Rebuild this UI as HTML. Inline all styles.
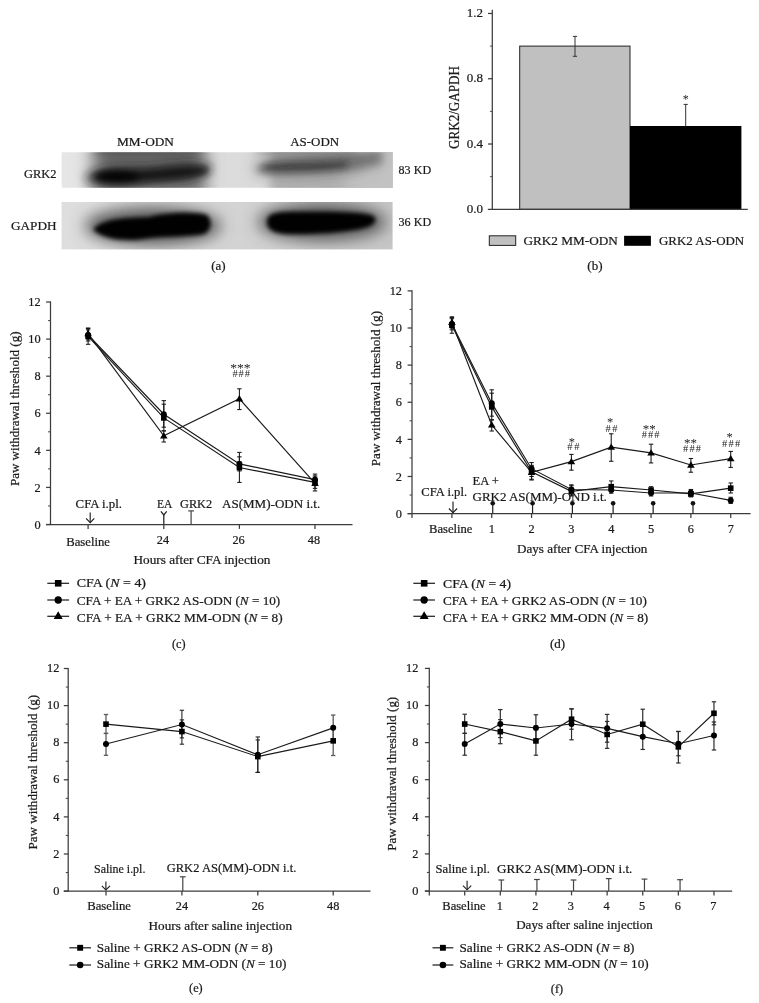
<!DOCTYPE html>
<html><head><meta charset="utf-8"><title>Figure</title>
<style>
html,body{margin:0;padding:0;background:#fff;}
body{width:759px;height:1003px;overflow:hidden;font-family:"Liberation Serif",serif;}
svg{display:block;font-family:"Liberation Serif",serif;filter:grayscale(1);}
text{stroke:#1a1a1a;stroke-width:0.22px;stroke-linejoin:round;}
</style></head><body>
<svg width="759" height="1003" viewBox="0 0 759 1003">
<rect width="759" height="1003" fill="#fff"/>

<defs>
<filter id="b2" filterUnits="userSpaceOnUse" x="0" y="90" width="460" height="220"><feGaussianBlur stdDeviation="2.2"/></filter>
<filter id="b3" filterUnits="userSpaceOnUse" x="0" y="90" width="460" height="220"><feGaussianBlur stdDeviation="3.2"/></filter>
<filter id="b5" filterUnits="userSpaceOnUse" x="0" y="90" width="460" height="220"><feGaussianBlur stdDeviation="5"/></filter>
<filter id="b8" filterUnits="userSpaceOnUse" x="0" y="90" width="460" height="220"><feGaussianBlur stdDeviation="8"/></filter>
<filter id="bh" filterUnits="userSpaceOnUse" x="0" y="90" width="460" height="220"><feGaussianBlur stdDeviation="9 0.1"/></filter>
<clipPath id="c1"><rect x="61.6" y="152.2" width="331" height="35.6"/></clipPath>
<clipPath id="c2"><rect x="61.6" y="202.0" width="331" height="47.6"/></clipPath>
<linearGradient id="g1" x1="0" x2="1" y1="0" y2="0">
<stop offset="0" stop-color="#e6e6e6"/><stop offset="0.5" stop-color="#dcdcdc"/><stop offset="1" stop-color="#cfcfcf"/></linearGradient>
<linearGradient id="g2" x1="0" x2="1" y1="0" y2="0">
<stop offset="0" stop-color="#dedede"/><stop offset="0.5" stop-color="#d4d4d4"/><stop offset="1" stop-color="#c6c6c6"/></linearGradient>
</defs>
<g clip-path="url(#c1)">
<rect x="61" y="152" width="332" height="36.5" fill="url(#g1)"/>
<path d="M93,130 L205,130 L205.02,170.0 L205,210 L93,210 L92.98,170.0 Z" fill="#6a6a6a" filter="url(#bh)" opacity="1.0"/>
<path d="M96,136 L202,136 L202.02,145.5 L202,155 L96,155 L95.98,145.5 Z" fill="#3a3a3a" filter="url(#b5)" opacity="0.42"/>
<path d="M100,187 L195,187 L195.02,193.0 L195,199 L100,199 L99.98,193.0 Z" fill="#b8b8b8" filter="url(#b5)" opacity="0.45"/>
<path d="M84,178 C94,164 130,166 150,166 C175,163 198,160 212,166 C214,177 185,182 150,184 C125,189 96,190 84,178 Z" fill="#202020" filter="url(#b5)" fill-opacity="0.7"/>
<path d="M93,176.5 C100,170.5 120,170.5 140,171.5 C165,170 190,166.5 206,167.5 C209,170 208,173 205,174.5 C190,177 165,178.5 140,180.5 C120,183 100,182.5 93,176.5 Z" fill="#000" filter="url(#b3)" fill-opacity="0.62"/>
<path d="M95.00,176.50 C95.00,173.96 104.85,171.90 117.00,171.90 C129.15,171.90 139.00,173.96 139.00,176.50 C139.00,179.04 129.15,181.10 117.00,181.10 C104.85,181.10 95.00,179.04 95.00,176.50 Z" fill="#000" fill-opacity="0.85" filter="url(#b3)"/>
<path d="M270,130 L420,130 L420.02,170.0 L420,210 L270,210 L269.98,170.0 Z" fill="#b0b0b0" filter="url(#b5)" opacity="1.0"/>
<path d="M345,130 L420,130 L420.02,170.0 L420,210 L345,210 L344.98,170.0 Z" fill="#c8c8c8" filter="url(#bh)" opacity="0.75"/>
<path d="M256,136 L356,136 L356.02,145.0 L356,154 L256,154 L255.98,145.0 Z" fill="#707070" filter="url(#b5)" opacity="0.55"/>
<path d="M254.00,165.00 C254.00,160.03 279.97,156.00 312.00,156.00 C344.03,156.00 370.00,160.03 370.00,165.00 C370.00,169.97 344.03,174.00 312.00,174.00 C279.97,174.00 254.00,169.97 254.00,165.00 Z" fill="#606060" fill-opacity="0.35" filter="url(#b8)"/>
<path d="M254,167 C275,155 330,159 380,149 C384,156 384,161 380,165 C340,174 290,175 258,174 Z" fill="#383838" filter="url(#b5)" fill-opacity="0.55"/>
<path d="M262,165.5 C280,161.5 320,165 346,161 C348,164 348,166.5 346,167.5 C320,171 285,171 264,170.5 Z" fill="#222" filter="url(#b3)" fill-opacity="0.55"/>
</g>
<g clip-path="url(#c2)">
<rect x="61" y="201.8" width="332" height="48" fill="url(#g2)"/>
<path d="M85.00,226.00 C85.00,216.06 115.44,208.00 153.00,208.00 C190.56,208.00 221.00,216.06 221.00,226.00 C221.00,235.94 190.56,244.00 153.00,244.00 C115.44,244.00 85.00,235.94 85.00,226.00 Z" fill="#505050" fill-opacity="0.99" filter="url(#b8)"/>
<path d="M258.00,222.00 C258.00,212.06 286.65,204.00 322.00,204.00 C357.35,204.00 386.00,212.06 386.00,222.00 C386.00,231.94 357.35,240.00 322.00,240.00 C286.65,240.00 258.00,231.94 258.00,222.00 Z" fill="#505050" fill-opacity="0.99" filter="url(#b8)"/>
<path d="M93,229.5 C101,220 122,217.5 148,217.3 C165,212.3 195,211.3 207,215 C213,221 211,230.5 204,234 C190,237 165,236 150,238 C130,242 104,240.5 93,229.5 Z" fill="#000" fill-opacity="0.99" filter="url(#b2)"/>
<path d="M267,222 C267,213 276,211.8 300,211.8 C330,211.3 360,211.8 371,215 C378,217.5 377,223.5 367,227.3 C350,232 320,234.3 295,234.3 C276,234.3 267,231 267,222 Z" fill="#000" fill-opacity="0.99" filter="url(#b2)"/>
</g>
<text x="117.00" y="146.30" font-size="13" text-anchor="start" fill="#1a1a1a" textLength="57.0" lengthAdjust="spacingAndGlyphs">MM-ODN</text>
<text x="290.20" y="146.30" font-size="13" text-anchor="start" fill="#1a1a1a" textLength="49.0" lengthAdjust="spacingAndGlyphs">AS-ODN</text>
<text x="56.50" y="178.40" font-size="13" text-anchor="end" fill="#1a1a1a" textLength="32.6" lengthAdjust="spacingAndGlyphs">GRK2</text>
<text x="56.50" y="229.80" font-size="13" text-anchor="end" fill="#1a1a1a" textLength="45.5" lengthAdjust="spacingAndGlyphs">GAPDH</text>
<text x="398.60" y="173.70" font-size="13" text-anchor="start" fill="#1a1a1a" textLength="32.5" lengthAdjust="spacingAndGlyphs">83 KD</text>
<text x="398.60" y="225.80" font-size="13" text-anchor="start" fill="#1a1a1a" textLength="32.5" lengthAdjust="spacingAndGlyphs">36 KD</text>
<text x="218.40" y="270.40" font-size="13" text-anchor="middle" fill="#1a1a1a">(a)</text>
<line x1="492.30" y1="209.80" x2="492.30" y2="9.80" stroke="#3c3c3c" stroke-width="1.25"/>
<text x="482.90" y="213.00" font-size="13" text-anchor="end" fill="#1a1a1a">0.0</text>
<line x1="488.00" y1="144.02" x2="492.30" y2="144.02" stroke="#3c3c3c" stroke-width="1.25"/>
<text x="482.90" y="147.72" font-size="13" text-anchor="end" fill="#1a1a1a">0.4</text>
<line x1="488.00" y1="78.74" x2="492.30" y2="78.74" stroke="#3c3c3c" stroke-width="1.25"/>
<text x="482.90" y="82.44" font-size="13" text-anchor="end" fill="#1a1a1a">0.8</text>
<line x1="488.00" y1="13.46" x2="492.30" y2="13.46" stroke="#3c3c3c" stroke-width="1.25"/>
<text x="482.90" y="17.16" font-size="13" text-anchor="end" fill="#1a1a1a">1.2</text>
<line x1="489.90" y1="176.66" x2="492.30" y2="176.66" stroke="#444" stroke-width="0.9"/>
<line x1="489.90" y1="111.38" x2="492.30" y2="111.38" stroke="#444" stroke-width="0.9"/>
<line x1="489.90" y1="46.10" x2="492.30" y2="46.10" stroke="#444" stroke-width="0.9"/>
<rect x="519.7" y="46.10" width="110.3" height="163.20" fill="#c0c0c0" stroke="#222" stroke-width="1"/>
<rect x="630" y="126.0" width="111.4" height="83.30" fill="#000"/>
<line x1="487.80" y1="209.30" x2="747.80" y2="209.30" stroke="#3c3c3c" stroke-width="1.25"/>
<line x1="575.00" y1="36.40" x2="575.00" y2="56.30" stroke="#333" stroke-width="1.0"/>
<line x1="572.90" y1="36.40" x2="577.10" y2="36.40" stroke="#333" stroke-width="1.0"/>
<line x1="572.90" y1="56.30" x2="577.10" y2="56.30" stroke="#333" stroke-width="1.0"/>
<line x1="685.70" y1="104.40" x2="685.70" y2="126.00" stroke="#333" stroke-width="1.0"/>
<line x1="683.60" y1="104.40" x2="687.80" y2="104.40" stroke="#333" stroke-width="1.0"/>
<text x="685.70" y="102.90" font-size="12" text-anchor="middle" fill="#222" stroke="none" style="stroke:none">*</text>
<text transform="translate(459.30,107.50) rotate(-90)" font-size="14.6" text-anchor="middle" fill="#1a1a1a" textLength="83.0" lengthAdjust="spacingAndGlyphs">GRK2/GAPDH</text>
<rect x="489.3" y="235.8" width="26.4" height="9.6" fill="#c0c0c0" stroke="#222" stroke-width="1"/>
<text x="523.40" y="245.20" font-size="13" text-anchor="start" fill="#1a1a1a" textLength="94.5" lengthAdjust="spacingAndGlyphs">GRK2 MM-ODN</text>
<rect x="624.1" y="235.8" width="26.8" height="10" fill="#000"/>
<text x="659.00" y="245.20" font-size="13" text-anchor="start" fill="#1a1a1a" textLength="85.2" lengthAdjust="spacingAndGlyphs">GRK2 AS-ODN</text>
<text x="594.90" y="269.90" font-size="13" text-anchor="middle" fill="#1a1a1a">(b)</text>
<line x1="50.50" y1="525.10" x2="50.50" y2="301.42" stroke="#3c3c3c" stroke-width="1.25"/>
<line x1="46.10" y1="524.50" x2="50.50" y2="524.50" stroke="#3c3c3c" stroke-width="1.25"/>
<text x="40.60" y="528.70" font-size="12.3" text-anchor="end" fill="#1a1a1a">0</text>
<line x1="48.10" y1="505.96" x2="50.50" y2="505.96" stroke="#4a4a4a" stroke-width="1.1"/>
<line x1="46.10" y1="487.42" x2="50.50" y2="487.42" stroke="#3c3c3c" stroke-width="1.25"/>
<text x="40.60" y="491.62" font-size="12.3" text-anchor="end" fill="#1a1a1a">2</text>
<line x1="48.10" y1="468.88" x2="50.50" y2="468.88" stroke="#4a4a4a" stroke-width="1.1"/>
<line x1="46.10" y1="450.34" x2="50.50" y2="450.34" stroke="#3c3c3c" stroke-width="1.25"/>
<text x="40.60" y="454.54" font-size="12.3" text-anchor="end" fill="#1a1a1a">4</text>
<line x1="48.10" y1="431.80" x2="50.50" y2="431.80" stroke="#4a4a4a" stroke-width="1.1"/>
<line x1="46.10" y1="413.26" x2="50.50" y2="413.26" stroke="#3c3c3c" stroke-width="1.25"/>
<text x="40.60" y="417.46" font-size="12.3" text-anchor="end" fill="#1a1a1a">6</text>
<line x1="48.10" y1="394.72" x2="50.50" y2="394.72" stroke="#4a4a4a" stroke-width="1.1"/>
<line x1="46.10" y1="376.18" x2="50.50" y2="376.18" stroke="#3c3c3c" stroke-width="1.25"/>
<text x="40.60" y="380.38" font-size="12.3" text-anchor="end" fill="#1a1a1a">8</text>
<line x1="48.10" y1="357.64" x2="50.50" y2="357.64" stroke="#4a4a4a" stroke-width="1.1"/>
<line x1="46.10" y1="339.10" x2="50.50" y2="339.10" stroke="#3c3c3c" stroke-width="1.25"/>
<text x="40.60" y="343.30" font-size="12.3" text-anchor="end" fill="#1a1a1a">10</text>
<line x1="48.10" y1="320.56" x2="50.50" y2="320.56" stroke="#4a4a4a" stroke-width="1.1"/>
<line x1="46.10" y1="302.02" x2="50.50" y2="302.02" stroke="#3c3c3c" stroke-width="1.25"/>
<text x="40.60" y="306.22" font-size="12.3" text-anchor="end" fill="#1a1a1a">12</text>
<line x1="46.10" y1="524.50" x2="352.50" y2="524.50" stroke="#3c3c3c" stroke-width="1.25"/>
<line x1="88.10" y1="524.50" x2="88.10" y2="528.90" stroke="#3c3c3c" stroke-width="1.25"/>
<text x="88.10" y="546.40" font-size="12.3" text-anchor="middle" fill="#1a1a1a" textLength="43.8" lengthAdjust="spacingAndGlyphs">Baseline</text>
<line x1="163.80" y1="524.50" x2="163.80" y2="528.90" stroke="#3c3c3c" stroke-width="1.25"/>
<text x="163.00" y="543.80" font-size="12.3" text-anchor="middle" fill="#1a1a1a">24</text>
<line x1="239.40" y1="524.50" x2="239.40" y2="528.90" stroke="#3c3c3c" stroke-width="1.25"/>
<text x="238.60" y="543.80" font-size="12.3" text-anchor="middle" fill="#1a1a1a">26</text>
<line x1="315.00" y1="524.50" x2="315.00" y2="528.90" stroke="#3c3c3c" stroke-width="1.25"/>
<text x="314.00" y="543.80" font-size="12.3" text-anchor="middle" fill="#1a1a1a">48</text>
<text transform="translate(19.00,408.80) rotate(-90)" font-size="12.3" text-anchor="middle" fill="#1a1a1a" textLength="154.6" lengthAdjust="spacingAndGlyphs">Paw withdrawal threshold (g)</text>
<text x="202.00" y="564.00" font-size="12.3" text-anchor="middle" fill="#1a1a1a" textLength="137.0" lengthAdjust="spacingAndGlyphs">Hours after CFA injection</text>
<polyline fill="none" stroke="#1a1a1a" stroke-width="1.15" points="88.10,336.32 163.80,417.89 239.40,467.58 315.00,482.41"/>
<polyline fill="none" stroke="#1a1a1a" stroke-width="1.15" points="88.10,335.02 163.80,414.19 239.40,463.87 315.00,479.63"/>
<polyline fill="none" stroke="#1a1a1a" stroke-width="1.15" points="88.10,333.54 163.80,435.88 239.40,398.80 315.00,483.34"/>
<line x1="88.10" y1="328.53" x2="88.10" y2="344.29" stroke="#161616" stroke-width="1.05"/>
<line x1="85.90" y1="328.53" x2="90.30" y2="328.53" stroke="#161616" stroke-width="1.05"/>
<line x1="85.90" y1="344.29" x2="90.30" y2="344.29" stroke="#161616" stroke-width="1.05"/>
<line x1="163.80" y1="404.18" x2="163.80" y2="430.87" stroke="#161616" stroke-width="1.05"/>
<line x1="161.60" y1="404.18" x2="166.00" y2="404.18" stroke="#161616" stroke-width="1.05"/>
<line x1="161.60" y1="430.87" x2="166.00" y2="430.87" stroke="#161616" stroke-width="1.05"/>
<line x1="239.40" y1="452.38" x2="239.40" y2="482.41" stroke="#161616" stroke-width="1.05"/>
<line x1="237.20" y1="452.38" x2="241.60" y2="452.38" stroke="#161616" stroke-width="1.05"/>
<line x1="237.20" y1="482.41" x2="241.60" y2="482.41" stroke="#161616" stroke-width="1.05"/>
<line x1="315.00" y1="475.93" x2="315.00" y2="488.35" stroke="#161616" stroke-width="1.05"/>
<line x1="312.80" y1="475.93" x2="317.20" y2="475.93" stroke="#161616" stroke-width="1.05"/>
<line x1="312.80" y1="488.35" x2="317.20" y2="488.35" stroke="#161616" stroke-width="1.05"/>
<line x1="88.10" y1="329.83" x2="88.10" y2="340.95" stroke="#161616" stroke-width="1.05"/>
<line x1="85.90" y1="329.83" x2="90.30" y2="329.83" stroke="#161616" stroke-width="1.05"/>
<line x1="85.90" y1="340.95" x2="90.30" y2="340.95" stroke="#161616" stroke-width="1.05"/>
<line x1="163.80" y1="400.65" x2="163.80" y2="427.17" stroke="#161616" stroke-width="1.05"/>
<line x1="161.60" y1="400.65" x2="166.00" y2="400.65" stroke="#161616" stroke-width="1.05"/>
<line x1="161.60" y1="427.17" x2="166.00" y2="427.17" stroke="#161616" stroke-width="1.05"/>
<line x1="239.40" y1="456.83" x2="239.40" y2="470.92" stroke="#161616" stroke-width="1.05"/>
<line x1="237.20" y1="456.83" x2="241.60" y2="456.83" stroke="#161616" stroke-width="1.05"/>
<line x1="237.20" y1="470.92" x2="241.60" y2="470.92" stroke="#161616" stroke-width="1.05"/>
<line x1="315.00" y1="474.07" x2="315.00" y2="485.57" stroke="#161616" stroke-width="1.05"/>
<line x1="312.80" y1="474.07" x2="317.20" y2="474.07" stroke="#161616" stroke-width="1.05"/>
<line x1="312.80" y1="485.57" x2="317.20" y2="485.57" stroke="#161616" stroke-width="1.05"/>
<line x1="88.10" y1="327.98" x2="88.10" y2="339.10" stroke="#161616" stroke-width="1.05"/>
<line x1="85.90" y1="327.98" x2="90.30" y2="327.98" stroke="#161616" stroke-width="1.05"/>
<line x1="85.90" y1="339.10" x2="90.30" y2="339.10" stroke="#161616" stroke-width="1.05"/>
<line x1="163.80" y1="430.87" x2="163.80" y2="442.00" stroke="#161616" stroke-width="1.05"/>
<line x1="161.60" y1="430.87" x2="166.00" y2="430.87" stroke="#161616" stroke-width="1.05"/>
<line x1="161.60" y1="442.00" x2="166.00" y2="442.00" stroke="#161616" stroke-width="1.05"/>
<line x1="239.40" y1="388.79" x2="239.40" y2="409.55" stroke="#161616" stroke-width="1.05"/>
<line x1="237.20" y1="388.79" x2="241.60" y2="388.79" stroke="#161616" stroke-width="1.05"/>
<line x1="237.20" y1="409.55" x2="241.60" y2="409.55" stroke="#161616" stroke-width="1.05"/>
<line x1="315.00" y1="477.22" x2="315.00" y2="490.94" stroke="#161616" stroke-width="1.05"/>
<line x1="312.80" y1="477.22" x2="317.20" y2="477.22" stroke="#161616" stroke-width="1.05"/>
<line x1="312.80" y1="490.94" x2="317.20" y2="490.94" stroke="#161616" stroke-width="1.05"/>
<rect x="85.30" y="333.52" width="5.6" height="5.6" fill="#000"/>
<rect x="161.00" y="415.09" width="5.6" height="5.6" fill="#000"/>
<rect x="236.60" y="464.78" width="5.6" height="5.6" fill="#000"/>
<rect x="312.20" y="479.61" width="5.6" height="5.6" fill="#000"/>
<circle cx="88.10" cy="335.02" r="3.0" fill="#000"/>
<circle cx="163.80" cy="414.19" r="3.0" fill="#000"/>
<circle cx="239.40" cy="463.87" r="3.0" fill="#000"/>
<circle cx="315.00" cy="479.63" r="3.0" fill="#000"/>
<polygon points="88.10,329.83 84.30,336.23 91.90,336.23" fill="#000"/>
<polygon points="163.80,432.17 160.00,438.57 167.60,438.57" fill="#000"/>
<polygon points="239.40,395.09 235.60,401.49 243.20,401.49" fill="#000"/>
<polygon points="315.00,479.63 311.20,486.03 318.80,486.03" fill="#000"/>
<text x="240.40" y="372.30" font-size="12.5" text-anchor="middle" fill="#222" textLength="20.5" lengthAdjust="spacingAndGlyphs" stroke="none" style="stroke:none">***</text>
<text x="241.20" y="377.00" font-size="10.5" text-anchor="middle" fill="#222" textLength="17.6" lengthAdjust="spacing" stroke="none" style="stroke:none">###</text>
<text x="75.60" y="508.00" font-size="12.3" text-anchor="start" fill="#1a1a1a" textLength="46.4" lengthAdjust="spacingAndGlyphs">CFA i.pl.</text>
<line x1="90.20" y1="512.60" x2="90.20" y2="522.60" stroke="#222" stroke-width="1.15"/>
<polyline fill="none" stroke="#222" stroke-width="1.15" points="86.10,518.40 90.20,522.60 94.30,518.40"/>
<text x="157.00" y="508.00" font-size="12.3" text-anchor="start" fill="#1a1a1a" textLength="15.4" lengthAdjust="spacingAndGlyphs">EA</text>
<line x1="163.80" y1="515.00" x2="163.80" y2="524.00" stroke="#222" stroke-width="1.25"/>
<polyline fill="none" stroke="#222" stroke-width="1.25" points="160.90,511.40 163.80,515.00 166.70,511.40"/>
<text x="180.00" y="508.00" font-size="12.3" text-anchor="start" fill="#1a1a1a" textLength="32.2" lengthAdjust="spacingAndGlyphs">GRK2</text>
<line x1="191.10" y1="510.90" x2="191.10" y2="524.00" stroke="#444" stroke-width="1.2"/>
<line x1="188.20" y1="510.90" x2="194.00" y2="510.90" stroke="#444" stroke-width="1.2"/>
<text x="222.00" y="508.00" font-size="12.3" text-anchor="start" fill="#1a1a1a" textLength="98.2" lengthAdjust="spacingAndGlyphs">AS(MM)-ODN i.t.</text>
<line x1="47.30" y1="583.30" x2="69.10" y2="583.30" stroke="#222" stroke-width="1.25"/>
<rect x="54.90" y="580.00" width="6.6" height="6.6" fill="#000"/>
<text x="76.80" y="587.20" font-size="12.3" text-anchor="start" fill="#1a1a1a" textLength="69.2" lengthAdjust="spacingAndGlyphs">CFA (<tspan font-style="italic">N</tspan> = 4)</text>
<line x1="47.30" y1="600.00" x2="69.10" y2="600.00" stroke="#222" stroke-width="1.25"/>
<circle cx="58.20" cy="600.00" r="3.65" fill="#000"/>
<text x="76.80" y="605.00" font-size="12.3" text-anchor="start" fill="#1a1a1a" textLength="203.4" lengthAdjust="spacingAndGlyphs">CFA + EA + GRK2 AS-ODN (<tspan font-style="italic">N</tspan> = 10)</text>
<line x1="47.30" y1="616.30" x2="69.10" y2="616.30" stroke="#222" stroke-width="1.25"/>
<polygon points="58.20,611.18 53.70,618.98 62.70,618.98" fill="#000"/>
<text x="76.80" y="622.00" font-size="12.3" text-anchor="start" fill="#1a1a1a" textLength="205.8" lengthAdjust="spacingAndGlyphs">CFA + EA + GRK2 MM-ODN (<tspan font-style="italic">N</tspan> = 8)</text>
<text x="178.80" y="647.60" font-size="12.3" text-anchor="middle" fill="#1a1a1a">(c)</text>
<line x1="412.00" y1="518.00" x2="412.00" y2="290.28" stroke="#3c3c3c" stroke-width="1.25"/>
<line x1="407.60" y1="513.60" x2="412.00" y2="513.60" stroke="#3c3c3c" stroke-width="1.25"/>
<text x="402.00" y="517.80" font-size="12.3" text-anchor="end" fill="#1a1a1a">0</text>
<line x1="409.60" y1="495.04" x2="412.00" y2="495.04" stroke="#4a4a4a" stroke-width="1.1"/>
<line x1="407.60" y1="476.48" x2="412.00" y2="476.48" stroke="#3c3c3c" stroke-width="1.25"/>
<text x="402.00" y="480.68" font-size="12.3" text-anchor="end" fill="#1a1a1a">2</text>
<line x1="409.60" y1="457.92" x2="412.00" y2="457.92" stroke="#4a4a4a" stroke-width="1.1"/>
<line x1="407.60" y1="439.36" x2="412.00" y2="439.36" stroke="#3c3c3c" stroke-width="1.25"/>
<text x="402.00" y="443.56" font-size="12.3" text-anchor="end" fill="#1a1a1a">4</text>
<line x1="409.60" y1="420.80" x2="412.00" y2="420.80" stroke="#4a4a4a" stroke-width="1.1"/>
<line x1="407.60" y1="402.24" x2="412.00" y2="402.24" stroke="#3c3c3c" stroke-width="1.25"/>
<text x="402.00" y="406.44" font-size="12.3" text-anchor="end" fill="#1a1a1a">6</text>
<line x1="409.60" y1="383.68" x2="412.00" y2="383.68" stroke="#4a4a4a" stroke-width="1.1"/>
<line x1="407.60" y1="365.12" x2="412.00" y2="365.12" stroke="#3c3c3c" stroke-width="1.25"/>
<text x="402.00" y="369.32" font-size="12.3" text-anchor="end" fill="#1a1a1a">8</text>
<line x1="409.60" y1="346.56" x2="412.00" y2="346.56" stroke="#4a4a4a" stroke-width="1.1"/>
<line x1="407.60" y1="328.00" x2="412.00" y2="328.00" stroke="#3c3c3c" stroke-width="1.25"/>
<text x="402.00" y="332.20" font-size="12.3" text-anchor="end" fill="#1a1a1a">10</text>
<line x1="409.60" y1="309.44" x2="412.00" y2="309.44" stroke="#4a4a4a" stroke-width="1.1"/>
<line x1="407.60" y1="290.88" x2="412.00" y2="290.88" stroke="#3c3c3c" stroke-width="1.25"/>
<text x="402.00" y="295.08" font-size="12.3" text-anchor="end" fill="#1a1a1a">12</text>
<line x1="407.60" y1="513.60" x2="750.60" y2="513.60" stroke="#3c3c3c" stroke-width="1.25"/>
<line x1="451.90" y1="513.60" x2="451.90" y2="518.00" stroke="#3c3c3c" stroke-width="1.25"/>
<text x="450.70" y="532.60" font-size="12.3" text-anchor="middle" fill="#1a1a1a" textLength="43.4" lengthAdjust="spacingAndGlyphs">Baseline</text>
<line x1="491.73" y1="513.60" x2="491.73" y2="518.00" stroke="#3c3c3c" stroke-width="1.25"/>
<text x="491.73" y="532.60" font-size="12.3" text-anchor="middle" fill="#1a1a1a">1</text>
<line x1="531.56" y1="513.60" x2="531.56" y2="518.00" stroke="#3c3c3c" stroke-width="1.25"/>
<text x="531.56" y="532.60" font-size="12.3" text-anchor="middle" fill="#1a1a1a">2</text>
<line x1="571.39" y1="513.60" x2="571.39" y2="518.00" stroke="#3c3c3c" stroke-width="1.25"/>
<text x="571.39" y="532.60" font-size="12.3" text-anchor="middle" fill="#1a1a1a">3</text>
<line x1="611.22" y1="513.60" x2="611.22" y2="518.00" stroke="#3c3c3c" stroke-width="1.25"/>
<text x="611.22" y="532.60" font-size="12.3" text-anchor="middle" fill="#1a1a1a">4</text>
<line x1="651.05" y1="513.60" x2="651.05" y2="518.00" stroke="#3c3c3c" stroke-width="1.25"/>
<text x="651.05" y="532.60" font-size="12.3" text-anchor="middle" fill="#1a1a1a">5</text>
<line x1="690.88" y1="513.60" x2="690.88" y2="518.00" stroke="#3c3c3c" stroke-width="1.25"/>
<text x="690.88" y="532.60" font-size="12.3" text-anchor="middle" fill="#1a1a1a">6</text>
<line x1="730.71" y1="513.60" x2="730.71" y2="518.00" stroke="#3c3c3c" stroke-width="1.25"/>
<text x="730.71" y="532.60" font-size="12.3" text-anchor="middle" fill="#1a1a1a">7</text>
<text transform="translate(379.80,388.60) rotate(-90)" font-size="12.3" text-anchor="middle" fill="#1a1a1a" textLength="155.2" lengthAdjust="spacingAndGlyphs">Paw withdrawal threshold (g)</text>
<text x="582.20" y="552.80" font-size="12.3" text-anchor="middle" fill="#1a1a1a" textLength="130.4" lengthAdjust="spacingAndGlyphs">Days after CFA injection</text>
<polyline fill="none" stroke="#1a1a1a" stroke-width="1.15" points="451.90,325.22 491.73,406.88 531.56,471.84 571.39,491.33 611.22,486.69 651.05,490.03 690.88,493.93 730.71,488.17"/>
<polyline fill="none" stroke="#1a1a1a" stroke-width="1.15" points="451.90,323.92 491.73,403.17 531.56,468.68 571.39,489.47 611.22,490.03 651.05,493.00 690.88,493.00 730.71,500.42"/>
<polyline fill="none" stroke="#1a1a1a" stroke-width="1.15" points="451.90,322.43 491.73,424.88 531.56,472.40 571.39,461.63 611.22,447.16 651.05,452.91 690.88,464.97 730.71,458.66"/>
<line x1="451.90" y1="317.42" x2="451.90" y2="333.20" stroke="#161616" stroke-width="1.05"/>
<line x1="449.70" y1="317.42" x2="454.10" y2="317.42" stroke="#161616" stroke-width="1.05"/>
<line x1="449.70" y1="333.20" x2="454.10" y2="333.20" stroke="#161616" stroke-width="1.05"/>
<line x1="491.73" y1="393.15" x2="491.73" y2="419.87" stroke="#161616" stroke-width="1.05"/>
<line x1="489.53" y1="393.15" x2="493.93" y2="393.15" stroke="#161616" stroke-width="1.05"/>
<line x1="489.53" y1="419.87" x2="493.93" y2="419.87" stroke="#161616" stroke-width="1.05"/>
<line x1="531.56" y1="462.56" x2="531.56" y2="479.26" stroke="#161616" stroke-width="1.05"/>
<line x1="529.36" y1="462.56" x2="533.76" y2="462.56" stroke="#161616" stroke-width="1.05"/>
<line x1="529.36" y1="479.26" x2="533.76" y2="479.26" stroke="#161616" stroke-width="1.05"/>
<line x1="571.39" y1="485.76" x2="571.39" y2="495.04" stroke="#161616" stroke-width="1.05"/>
<line x1="569.19" y1="485.76" x2="573.59" y2="485.76" stroke="#161616" stroke-width="1.05"/>
<line x1="569.19" y1="495.04" x2="573.59" y2="495.04" stroke="#161616" stroke-width="1.05"/>
<line x1="611.22" y1="480.93" x2="611.22" y2="491.33" stroke="#161616" stroke-width="1.05"/>
<line x1="609.02" y1="480.93" x2="613.42" y2="480.93" stroke="#161616" stroke-width="1.05"/>
<line x1="609.02" y1="491.33" x2="613.42" y2="491.33" stroke="#161616" stroke-width="1.05"/>
<line x1="651.05" y1="486.69" x2="651.05" y2="493.18" stroke="#161616" stroke-width="1.05"/>
<line x1="648.85" y1="486.69" x2="653.25" y2="486.69" stroke="#161616" stroke-width="1.05"/>
<line x1="648.85" y1="493.18" x2="653.25" y2="493.18" stroke="#161616" stroke-width="1.05"/>
<line x1="690.88" y1="490.40" x2="690.88" y2="496.90" stroke="#161616" stroke-width="1.05"/>
<line x1="688.68" y1="490.40" x2="693.08" y2="490.40" stroke="#161616" stroke-width="1.05"/>
<line x1="688.68" y1="496.90" x2="693.08" y2="496.90" stroke="#161616" stroke-width="1.05"/>
<line x1="730.71" y1="482.98" x2="730.71" y2="493.00" stroke="#161616" stroke-width="1.05"/>
<line x1="728.51" y1="482.98" x2="732.91" y2="482.98" stroke="#161616" stroke-width="1.05"/>
<line x1="728.51" y1="493.00" x2="732.91" y2="493.00" stroke="#161616" stroke-width="1.05"/>
<line x1="451.90" y1="318.72" x2="451.90" y2="329.86" stroke="#161616" stroke-width="1.05"/>
<line x1="449.70" y1="318.72" x2="454.10" y2="318.72" stroke="#161616" stroke-width="1.05"/>
<line x1="449.70" y1="329.86" x2="454.10" y2="329.86" stroke="#161616" stroke-width="1.05"/>
<line x1="491.73" y1="389.80" x2="491.73" y2="416.16" stroke="#161616" stroke-width="1.05"/>
<line x1="489.53" y1="389.80" x2="493.93" y2="389.80" stroke="#161616" stroke-width="1.05"/>
<line x1="489.53" y1="416.16" x2="493.93" y2="416.16" stroke="#161616" stroke-width="1.05"/>
<line x1="531.56" y1="465.34" x2="531.56" y2="476.48" stroke="#161616" stroke-width="1.05"/>
<line x1="529.36" y1="465.34" x2="533.76" y2="465.34" stroke="#161616" stroke-width="1.05"/>
<line x1="529.36" y1="476.48" x2="533.76" y2="476.48" stroke="#161616" stroke-width="1.05"/>
<line x1="571.39" y1="484.83" x2="571.39" y2="495.97" stroke="#161616" stroke-width="1.05"/>
<line x1="569.19" y1="484.83" x2="573.59" y2="484.83" stroke="#161616" stroke-width="1.05"/>
<line x1="569.19" y1="495.97" x2="573.59" y2="495.97" stroke="#161616" stroke-width="1.05"/>
<line x1="611.22" y1="486.69" x2="611.22" y2="493.18" stroke="#161616" stroke-width="1.05"/>
<line x1="609.02" y1="486.69" x2="613.42" y2="486.69" stroke="#161616" stroke-width="1.05"/>
<line x1="609.02" y1="493.18" x2="613.42" y2="493.18" stroke="#161616" stroke-width="1.05"/>
<line x1="651.05" y1="489.47" x2="651.05" y2="495.97" stroke="#161616" stroke-width="1.05"/>
<line x1="648.85" y1="489.47" x2="653.25" y2="489.47" stroke="#161616" stroke-width="1.05"/>
<line x1="648.85" y1="495.97" x2="653.25" y2="495.97" stroke="#161616" stroke-width="1.05"/>
<line x1="690.88" y1="489.47" x2="690.88" y2="495.97" stroke="#161616" stroke-width="1.05"/>
<line x1="688.68" y1="489.47" x2="693.08" y2="489.47" stroke="#161616" stroke-width="1.05"/>
<line x1="688.68" y1="495.97" x2="693.08" y2="495.97" stroke="#161616" stroke-width="1.05"/>
<line x1="730.71" y1="497.27" x2="730.71" y2="503.39" stroke="#161616" stroke-width="1.05"/>
<line x1="728.51" y1="497.27" x2="732.91" y2="497.27" stroke="#161616" stroke-width="1.05"/>
<line x1="728.51" y1="503.39" x2="732.91" y2="503.39" stroke="#161616" stroke-width="1.05"/>
<line x1="451.90" y1="316.86" x2="451.90" y2="328.00" stroke="#161616" stroke-width="1.05"/>
<line x1="449.70" y1="316.86" x2="454.10" y2="316.86" stroke="#161616" stroke-width="1.05"/>
<line x1="449.70" y1="328.00" x2="454.10" y2="328.00" stroke="#161616" stroke-width="1.05"/>
<line x1="491.73" y1="419.87" x2="491.73" y2="431.01" stroke="#161616" stroke-width="1.05"/>
<line x1="489.53" y1="419.87" x2="493.93" y2="419.87" stroke="#161616" stroke-width="1.05"/>
<line x1="489.53" y1="431.01" x2="493.93" y2="431.01" stroke="#161616" stroke-width="1.05"/>
<line x1="531.56" y1="466.27" x2="531.56" y2="480.01" stroke="#161616" stroke-width="1.05"/>
<line x1="529.36" y1="466.27" x2="533.76" y2="466.27" stroke="#161616" stroke-width="1.05"/>
<line x1="529.36" y1="480.01" x2="533.76" y2="480.01" stroke="#161616" stroke-width="1.05"/>
<line x1="571.39" y1="454.39" x2="571.39" y2="470.17" stroke="#161616" stroke-width="1.05"/>
<line x1="569.19" y1="454.39" x2="573.59" y2="454.39" stroke="#161616" stroke-width="1.05"/>
<line x1="569.19" y1="470.17" x2="573.59" y2="470.17" stroke="#161616" stroke-width="1.05"/>
<line x1="611.22" y1="433.79" x2="611.22" y2="461.26" stroke="#161616" stroke-width="1.05"/>
<line x1="609.02" y1="433.79" x2="613.42" y2="433.79" stroke="#161616" stroke-width="1.05"/>
<line x1="609.02" y1="461.26" x2="613.42" y2="461.26" stroke="#161616" stroke-width="1.05"/>
<line x1="651.05" y1="444.19" x2="651.05" y2="462.93" stroke="#161616" stroke-width="1.05"/>
<line x1="648.85" y1="444.19" x2="653.25" y2="444.19" stroke="#161616" stroke-width="1.05"/>
<line x1="648.85" y1="462.93" x2="653.25" y2="462.93" stroke="#161616" stroke-width="1.05"/>
<line x1="690.88" y1="458.48" x2="690.88" y2="472.21" stroke="#161616" stroke-width="1.05"/>
<line x1="688.68" y1="458.48" x2="693.08" y2="458.48" stroke="#161616" stroke-width="1.05"/>
<line x1="688.68" y1="472.21" x2="693.08" y2="472.21" stroke="#161616" stroke-width="1.05"/>
<line x1="730.71" y1="451.42" x2="730.71" y2="467.39" stroke="#161616" stroke-width="1.05"/>
<line x1="728.51" y1="451.42" x2="732.91" y2="451.42" stroke="#161616" stroke-width="1.05"/>
<line x1="728.51" y1="467.39" x2="732.91" y2="467.39" stroke="#161616" stroke-width="1.05"/>
<rect x="449.10" y="322.42" width="5.6" height="5.6" fill="#000"/>
<rect x="488.93" y="404.08" width="5.6" height="5.6" fill="#000"/>
<rect x="528.76" y="469.04" width="5.6" height="5.6" fill="#000"/>
<rect x="568.59" y="488.53" width="5.6" height="5.6" fill="#000"/>
<rect x="608.42" y="483.89" width="5.6" height="5.6" fill="#000"/>
<rect x="648.25" y="487.23" width="5.6" height="5.6" fill="#000"/>
<rect x="688.08" y="491.13" width="5.6" height="5.6" fill="#000"/>
<rect x="727.91" y="485.37" width="5.6" height="5.6" fill="#000"/>
<circle cx="451.90" cy="323.92" r="3.0" fill="#000"/>
<circle cx="491.73" cy="403.17" r="3.0" fill="#000"/>
<circle cx="531.56" cy="468.68" r="3.0" fill="#000"/>
<circle cx="571.39" cy="489.47" r="3.0" fill="#000"/>
<circle cx="611.22" cy="490.03" r="3.0" fill="#000"/>
<circle cx="651.05" cy="493.00" r="3.0" fill="#000"/>
<circle cx="690.88" cy="493.00" r="3.0" fill="#000"/>
<circle cx="730.71" cy="500.42" r="3.0" fill="#000"/>
<polygon points="451.90,318.72 448.10,325.12 455.70,325.12" fill="#000"/>
<polygon points="491.73,421.17 487.93,427.57 495.53,427.57" fill="#000"/>
<polygon points="531.56,468.68 527.76,475.08 535.36,475.08" fill="#000"/>
<polygon points="571.39,457.92 567.59,464.32 575.19,464.32" fill="#000"/>
<polygon points="611.22,443.44 607.42,449.84 615.02,449.84" fill="#000"/>
<polygon points="651.05,449.20 647.25,455.60 654.85,455.60" fill="#000"/>
<polygon points="690.88,461.26 687.08,467.66 694.68,467.66" fill="#000"/>
<polygon points="730.71,454.95 726.91,461.35 734.51,461.35" fill="#000"/>
<line x1="492.73" y1="503.20" x2="492.73" y2="513.60" stroke="#222" stroke-width="1.2"/>
<circle cx="492.73" cy="503.20" r="2.3" fill="#111"/>
<line x1="532.56" y1="503.20" x2="532.56" y2="513.60" stroke="#222" stroke-width="1.2"/>
<circle cx="532.56" cy="503.20" r="2.3" fill="#111"/>
<line x1="572.39" y1="503.20" x2="572.39" y2="513.60" stroke="#222" stroke-width="1.2"/>
<circle cx="572.39" cy="503.20" r="2.3" fill="#111"/>
<line x1="613.12" y1="503.20" x2="613.12" y2="513.60" stroke="#222" stroke-width="1.2"/>
<circle cx="613.12" cy="503.20" r="2.3" fill="#111"/>
<line x1="653.15" y1="503.20" x2="653.15" y2="513.60" stroke="#222" stroke-width="1.2"/>
<circle cx="653.15" cy="503.20" r="2.3" fill="#111"/>
<line x1="692.98" y1="503.20" x2="692.98" y2="513.60" stroke="#222" stroke-width="1.2"/>
<circle cx="692.98" cy="503.20" r="2.3" fill="#111"/>
<text x="421.30" y="496.30" font-size="12.3" text-anchor="start" fill="#1a1a1a" textLength="45.8" lengthAdjust="spacingAndGlyphs">CFA i.pl.</text>
<line x1="453.00" y1="501.60" x2="453.00" y2="512.70" stroke="#222" stroke-width="1.15"/>
<polyline fill="none" stroke="#222" stroke-width="1.15" points="448.90,508.50 453.00,512.70 457.10,508.50"/>
<text x="472.50" y="484.60" font-size="12.3" text-anchor="start" fill="#1a1a1a" textLength="26.3" lengthAdjust="spacingAndGlyphs">EA +</text>
<text x="472.50" y="501.30" font-size="12.3" text-anchor="start" fill="#1a1a1a" textLength="134.3" lengthAdjust="spacingAndGlyphs">GRK2 AS(MM)-OND i.t.</text>
<text x="571.80" y="445.80" font-size="12.5" text-anchor="middle" fill="#222" stroke="none" style="stroke:none">*</text>
<text x="573.40" y="449.80" font-size="10.5" text-anchor="middle" fill="#222" textLength="12.3" lengthAdjust="spacing" stroke="none" style="stroke:none">##</text>
<text x="610.00" y="426.20" font-size="12.5" text-anchor="middle" fill="#222" stroke="none" style="stroke:none">*</text>
<text x="611.60" y="431.60" font-size="10.5" text-anchor="middle" fill="#222" textLength="12.0" lengthAdjust="spacing" stroke="none" style="stroke:none">##</text>
<text x="649.20" y="433.00" font-size="12.5" text-anchor="middle" fill="#222" textLength="13.0" lengthAdjust="spacingAndGlyphs" stroke="none" style="stroke:none">**</text>
<text x="650.60" y="438.00" font-size="10.5" text-anchor="middle" fill="#222" textLength="17.8" lengthAdjust="spacing" stroke="none" style="stroke:none">###</text>
<text x="690.60" y="447.20" font-size="12.5" text-anchor="middle" fill="#222" textLength="13.0" lengthAdjust="spacingAndGlyphs" stroke="none" style="stroke:none">**</text>
<text x="692.00" y="451.90" font-size="10.5" text-anchor="middle" fill="#222" textLength="18.0" lengthAdjust="spacing" stroke="none" style="stroke:none">###</text>
<text x="729.60" y="441.00" font-size="12.5" text-anchor="middle" fill="#222" stroke="none" style="stroke:none">*</text>
<text x="731.20" y="446.90" font-size="10.5" text-anchor="middle" fill="#222" textLength="18.2" lengthAdjust="spacing" stroke="none" style="stroke:none">###</text>
<line x1="413.30" y1="583.30" x2="435.00" y2="583.30" stroke="#222" stroke-width="1.25"/>
<rect x="420.85" y="580.00" width="6.6" height="6.6" fill="#000"/>
<text x="443.00" y="587.60" font-size="12.3" text-anchor="start" fill="#1a1a1a" textLength="68.0" lengthAdjust="spacingAndGlyphs">CFA (<tspan font-style="italic">N</tspan> = 4)</text>
<line x1="413.30" y1="600.00" x2="435.00" y2="600.00" stroke="#222" stroke-width="1.25"/>
<circle cx="424.15" cy="600.00" r="3.65" fill="#000"/>
<text x="443.00" y="605.00" font-size="12.3" text-anchor="start" fill="#1a1a1a" textLength="203.8" lengthAdjust="spacingAndGlyphs">CFA + EA + GRK2 AS-ODN (<tspan font-style="italic">N</tspan> = 10)</text>
<line x1="413.30" y1="616.30" x2="435.00" y2="616.30" stroke="#222" stroke-width="1.25"/>
<polygon points="424.15,611.18 419.65,618.98 428.65,618.98" fill="#000"/>
<text x="443.00" y="622.00" font-size="12.3" text-anchor="start" fill="#1a1a1a" textLength="205.3" lengthAdjust="spacingAndGlyphs">CFA + EA + GRK2 MM-ODN (<tspan font-style="italic">N</tspan> = 8)</text>
<text x="557.60" y="647.90" font-size="12.3" text-anchor="middle" fill="#1a1a1a" textLength="15.2" lengthAdjust="spacingAndGlyphs">(d)</text>
<line x1="68.20" y1="891.70" x2="68.20" y2="667.90" stroke="#3c3c3c" stroke-width="1.25"/>
<line x1="63.80" y1="891.10" x2="68.20" y2="891.10" stroke="#3c3c3c" stroke-width="1.25"/>
<text x="59.40" y="894.70" font-size="12.3" text-anchor="end" fill="#1a1a1a">0</text>
<line x1="65.80" y1="872.55" x2="68.20" y2="872.55" stroke="#4a4a4a" stroke-width="1.1"/>
<line x1="63.80" y1="854.00" x2="68.20" y2="854.00" stroke="#3c3c3c" stroke-width="1.25"/>
<text x="59.40" y="857.60" font-size="12.3" text-anchor="end" fill="#1a1a1a">2</text>
<line x1="65.80" y1="835.45" x2="68.20" y2="835.45" stroke="#4a4a4a" stroke-width="1.1"/>
<line x1="63.80" y1="816.90" x2="68.20" y2="816.90" stroke="#3c3c3c" stroke-width="1.25"/>
<text x="59.40" y="820.50" font-size="12.3" text-anchor="end" fill="#1a1a1a">4</text>
<line x1="65.80" y1="798.35" x2="68.20" y2="798.35" stroke="#4a4a4a" stroke-width="1.1"/>
<line x1="63.80" y1="779.80" x2="68.20" y2="779.80" stroke="#3c3c3c" stroke-width="1.25"/>
<text x="59.40" y="783.40" font-size="12.3" text-anchor="end" fill="#1a1a1a">6</text>
<line x1="65.80" y1="761.25" x2="68.20" y2="761.25" stroke="#4a4a4a" stroke-width="1.1"/>
<line x1="63.80" y1="742.70" x2="68.20" y2="742.70" stroke="#3c3c3c" stroke-width="1.25"/>
<text x="59.40" y="746.30" font-size="12.3" text-anchor="end" fill="#1a1a1a">8</text>
<line x1="65.80" y1="724.15" x2="68.20" y2="724.15" stroke="#4a4a4a" stroke-width="1.1"/>
<line x1="63.80" y1="705.60" x2="68.20" y2="705.60" stroke="#3c3c3c" stroke-width="1.25"/>
<text x="59.40" y="709.20" font-size="12.3" text-anchor="end" fill="#1a1a1a">10</text>
<line x1="65.80" y1="687.05" x2="68.20" y2="687.05" stroke="#4a4a4a" stroke-width="1.1"/>
<line x1="63.80" y1="668.50" x2="68.20" y2="668.50" stroke="#3c3c3c" stroke-width="1.25"/>
<text x="59.40" y="672.10" font-size="12.3" text-anchor="end" fill="#1a1a1a">12</text>
<line x1="63.80" y1="891.10" x2="370.50" y2="891.10" stroke="#3c3c3c" stroke-width="1.25"/>
<line x1="106.00" y1="891.10" x2="106.00" y2="895.50" stroke="#3c3c3c" stroke-width="1.25"/>
<text x="109.10" y="910.00" font-size="12.3" text-anchor="middle" fill="#1a1a1a" textLength="43.8" lengthAdjust="spacingAndGlyphs">Baseline</text>
<line x1="181.90" y1="891.10" x2="181.90" y2="895.50" stroke="#3c3c3c" stroke-width="1.25"/>
<text x="181.90" y="910.00" font-size="12.3" text-anchor="middle" fill="#1a1a1a">24</text>
<line x1="257.80" y1="891.10" x2="257.80" y2="895.50" stroke="#3c3c3c" stroke-width="1.25"/>
<text x="257.80" y="910.00" font-size="12.3" text-anchor="middle" fill="#1a1a1a">26</text>
<line x1="333.20" y1="891.10" x2="333.20" y2="895.50" stroke="#3c3c3c" stroke-width="1.25"/>
<text x="333.20" y="910.00" font-size="12.3" text-anchor="middle" fill="#1a1a1a">48</text>
<text transform="translate(36.50,772.20) rotate(-90)" font-size="12.3" text-anchor="middle" fill="#1a1a1a" textLength="154.6" lengthAdjust="spacingAndGlyphs">Paw withdrawal threshold (g)</text>
<text x="220.30" y="929.50" font-size="12.3" text-anchor="middle" fill="#1a1a1a" textLength="143.6" lengthAdjust="spacingAndGlyphs">Hours after saline injection</text>
<polyline fill="none" stroke="#1a1a1a" stroke-width="1.15" points="106.00,724.15 181.90,731.57 257.80,756.61 333.20,740.85"/>
<polyline fill="none" stroke="#1a1a1a" stroke-width="1.15" points="106.00,744.00 181.90,724.52 257.80,754.76 333.20,727.86"/>
<line x1="106.00" y1="714.50" x2="106.00" y2="733.42" stroke="#5c5c5c" stroke-width="1.3"/>
<line x1="103.80" y1="714.50" x2="108.20" y2="714.50" stroke="#5c5c5c" stroke-width="1.3"/>
<line x1="103.80" y1="733.42" x2="108.20" y2="733.42" stroke="#5c5c5c" stroke-width="1.3"/>
<line x1="181.90" y1="719.88" x2="181.90" y2="744.18" stroke="#1e1e1e" stroke-width="1.05"/>
<line x1="179.70" y1="719.88" x2="184.10" y2="719.88" stroke="#1e1e1e" stroke-width="1.05"/>
<line x1="179.70" y1="744.18" x2="184.10" y2="744.18" stroke="#1e1e1e" stroke-width="1.05"/>
<line x1="257.80" y1="739.92" x2="257.80" y2="772.38" stroke="#1e1e1e" stroke-width="1.05"/>
<line x1="255.60" y1="739.92" x2="260.00" y2="739.92" stroke="#1e1e1e" stroke-width="1.05"/>
<line x1="255.60" y1="772.38" x2="260.00" y2="772.38" stroke="#1e1e1e" stroke-width="1.05"/>
<line x1="333.20" y1="727.86" x2="333.20" y2="755.50" stroke="#5c5c5c" stroke-width="1.3"/>
<line x1="331.00" y1="727.86" x2="335.40" y2="727.86" stroke="#5c5c5c" stroke-width="1.3"/>
<line x1="331.00" y1="755.50" x2="335.40" y2="755.50" stroke="#5c5c5c" stroke-width="1.3"/>
<line x1="106.00" y1="733.42" x2="106.00" y2="755.31" stroke="#5c5c5c" stroke-width="1.3"/>
<line x1="103.80" y1="733.42" x2="108.20" y2="733.42" stroke="#5c5c5c" stroke-width="1.3"/>
<line x1="103.80" y1="755.31" x2="108.20" y2="755.31" stroke="#5c5c5c" stroke-width="1.3"/>
<line x1="181.90" y1="710.24" x2="181.90" y2="737.88" stroke="#1e1e1e" stroke-width="1.05"/>
<line x1="179.70" y1="710.24" x2="184.10" y2="710.24" stroke="#1e1e1e" stroke-width="1.05"/>
<line x1="179.70" y1="737.88" x2="184.10" y2="737.88" stroke="#1e1e1e" stroke-width="1.05"/>
<line x1="257.80" y1="736.95" x2="257.80" y2="772.38" stroke="#1e1e1e" stroke-width="1.05"/>
<line x1="255.60" y1="736.95" x2="260.00" y2="736.95" stroke="#1e1e1e" stroke-width="1.05"/>
<line x1="255.60" y1="772.38" x2="260.00" y2="772.38" stroke="#1e1e1e" stroke-width="1.05"/>
<line x1="333.20" y1="715.06" x2="333.20" y2="740.85" stroke="#5c5c5c" stroke-width="1.3"/>
<line x1="331.00" y1="715.06" x2="335.40" y2="715.06" stroke="#5c5c5c" stroke-width="1.3"/>
<line x1="331.00" y1="740.85" x2="335.40" y2="740.85" stroke="#5c5c5c" stroke-width="1.3"/>
<rect x="103.20" y="721.35" width="5.6" height="5.6" fill="#000"/>
<rect x="179.10" y="728.77" width="5.6" height="5.6" fill="#000"/>
<rect x="255.00" y="753.81" width="5.6" height="5.6" fill="#000"/>
<rect x="330.40" y="738.05" width="5.6" height="5.6" fill="#000"/>
<circle cx="106.00" cy="744.00" r="3.0" fill="#000"/>
<circle cx="181.90" cy="724.52" r="3.0" fill="#000"/>
<circle cx="257.80" cy="754.76" r="3.0" fill="#000"/>
<circle cx="333.20" cy="727.86" r="3.0" fill="#000"/>
<text x="94.00" y="872.50" font-size="12.3" text-anchor="start" fill="#1a1a1a" textLength="51.4" lengthAdjust="spacingAndGlyphs">Saline i.pl.</text>
<line x1="105.90" y1="881.40" x2="105.90" y2="890.00" stroke="#222" stroke-width="1.15"/>
<polyline fill="none" stroke="#222" stroke-width="1.15" points="101.80,885.80 105.90,890.00 110.00,885.80"/>
<text x="166.70" y="872.20" font-size="12.3" text-anchor="start" fill="#1a1a1a" textLength="129.6" lengthAdjust="spacingAndGlyphs">GRK2 AS(MM)-ODN i.t.</text>
<line x1="182.80" y1="876.80" x2="182.80" y2="891.10" stroke="#444" stroke-width="1.2"/>
<line x1="179.90" y1="876.80" x2="185.70" y2="876.80" stroke="#444" stroke-width="1.2"/>
<line x1="69.30" y1="947.80" x2="91.00" y2="947.80" stroke="#222" stroke-width="1.25"/>
<rect x="77.20" y="944.85" width="5.9" height="5.9" fill="#000"/>
<text x="96.80" y="951.80" font-size="12.3" text-anchor="start" fill="#1a1a1a" textLength="176.0" lengthAdjust="spacingAndGlyphs">Saline + GRK2 AS-ODN (<tspan font-style="italic">N</tspan> = 8)</text>
<line x1="69.30" y1="965.00" x2="91.00" y2="965.00" stroke="#222" stroke-width="1.25"/>
<circle cx="80.15" cy="965.00" r="3.3" fill="#000"/>
<text x="96.80" y="967.60" font-size="12.3" text-anchor="start" fill="#1a1a1a" textLength="189.6" lengthAdjust="spacingAndGlyphs">Saline + GRK2 MM-ODN (<tspan font-style="italic">N</tspan> = 10)</text>
<text x="195.90" y="992.40" font-size="12.3" text-anchor="middle" fill="#1a1a1a">(e)</text>
<line x1="429.30" y1="895.40" x2="429.30" y2="667.80" stroke="#3c3c3c" stroke-width="1.25"/>
<line x1="424.90" y1="891.00" x2="429.30" y2="891.00" stroke="#3c3c3c" stroke-width="1.25"/>
<text x="418.30" y="894.80" font-size="12.3" text-anchor="end" fill="#1a1a1a">0</text>
<line x1="426.90" y1="872.45" x2="429.30" y2="872.45" stroke="#4a4a4a" stroke-width="1.1"/>
<line x1="424.90" y1="853.90" x2="429.30" y2="853.90" stroke="#3c3c3c" stroke-width="1.25"/>
<text x="418.30" y="857.70" font-size="12.3" text-anchor="end" fill="#1a1a1a">2</text>
<line x1="426.90" y1="835.35" x2="429.30" y2="835.35" stroke="#4a4a4a" stroke-width="1.1"/>
<line x1="424.90" y1="816.80" x2="429.30" y2="816.80" stroke="#3c3c3c" stroke-width="1.25"/>
<text x="418.30" y="820.60" font-size="12.3" text-anchor="end" fill="#1a1a1a">4</text>
<line x1="426.90" y1="798.25" x2="429.30" y2="798.25" stroke="#4a4a4a" stroke-width="1.1"/>
<line x1="424.90" y1="779.70" x2="429.30" y2="779.70" stroke="#3c3c3c" stroke-width="1.25"/>
<text x="418.30" y="783.50" font-size="12.3" text-anchor="end" fill="#1a1a1a">6</text>
<line x1="426.90" y1="761.15" x2="429.30" y2="761.15" stroke="#4a4a4a" stroke-width="1.1"/>
<line x1="424.90" y1="742.60" x2="429.30" y2="742.60" stroke="#3c3c3c" stroke-width="1.25"/>
<text x="418.30" y="746.40" font-size="12.3" text-anchor="end" fill="#1a1a1a">8</text>
<line x1="426.90" y1="724.05" x2="429.30" y2="724.05" stroke="#4a4a4a" stroke-width="1.1"/>
<line x1="424.90" y1="705.50" x2="429.30" y2="705.50" stroke="#3c3c3c" stroke-width="1.25"/>
<text x="418.30" y="709.30" font-size="12.3" text-anchor="end" fill="#1a1a1a">10</text>
<line x1="426.90" y1="686.95" x2="429.30" y2="686.95" stroke="#4a4a4a" stroke-width="1.1"/>
<line x1="424.90" y1="668.40" x2="429.30" y2="668.40" stroke="#3c3c3c" stroke-width="1.25"/>
<text x="418.30" y="672.20" font-size="12.3" text-anchor="end" fill="#1a1a1a">12</text>
<line x1="424.90" y1="891.00" x2="732.20" y2="891.00" stroke="#3c3c3c" stroke-width="1.25"/>
<line x1="464.70" y1="891.00" x2="464.70" y2="895.40" stroke="#3c3c3c" stroke-width="1.25"/>
<text x="463.90" y="909.90" font-size="12.3" text-anchor="middle" fill="#1a1a1a" textLength="43.2" lengthAdjust="spacingAndGlyphs">Baseline</text>
<line x1="500.31" y1="891.00" x2="500.31" y2="895.40" stroke="#3c3c3c" stroke-width="1.25"/>
<text x="499.71" y="909.90" font-size="12.3" text-anchor="middle" fill="#1a1a1a">1</text>
<line x1="535.92" y1="891.00" x2="535.92" y2="895.40" stroke="#3c3c3c" stroke-width="1.25"/>
<text x="535.32" y="909.90" font-size="12.3" text-anchor="middle" fill="#1a1a1a">2</text>
<line x1="571.53" y1="891.00" x2="571.53" y2="895.40" stroke="#3c3c3c" stroke-width="1.25"/>
<text x="570.93" y="909.90" font-size="12.3" text-anchor="middle" fill="#1a1a1a">3</text>
<line x1="607.14" y1="891.00" x2="607.14" y2="895.40" stroke="#3c3c3c" stroke-width="1.25"/>
<text x="606.54" y="909.90" font-size="12.3" text-anchor="middle" fill="#1a1a1a">4</text>
<line x1="642.75" y1="891.00" x2="642.75" y2="895.40" stroke="#3c3c3c" stroke-width="1.25"/>
<text x="642.15" y="909.90" font-size="12.3" text-anchor="middle" fill="#1a1a1a">5</text>
<line x1="678.36" y1="891.00" x2="678.36" y2="895.40" stroke="#3c3c3c" stroke-width="1.25"/>
<text x="677.76" y="909.90" font-size="12.3" text-anchor="middle" fill="#1a1a1a">6</text>
<line x1="713.97" y1="891.00" x2="713.97" y2="895.40" stroke="#3c3c3c" stroke-width="1.25"/>
<text x="713.37" y="909.90" font-size="12.3" text-anchor="middle" fill="#1a1a1a">7</text>
<text transform="translate(396.30,773.80) rotate(-90)" font-size="12.3" text-anchor="middle" fill="#1a1a1a" textLength="154.0" lengthAdjust="spacingAndGlyphs">Paw withdrawal threshold (g)</text>
<text x="584.50" y="929.40" font-size="12.3" text-anchor="middle" fill="#1a1a1a" textLength="136.6" lengthAdjust="spacingAndGlyphs">Days after saline injection</text>
<polyline fill="none" stroke="#1a1a1a" stroke-width="1.15" points="464.70,724.05 500.31,731.66 535.92,740.93 571.53,719.23 607.14,734.44 642.75,724.24 678.36,746.87 713.97,713.29"/>
<polyline fill="none" stroke="#1a1a1a" stroke-width="1.15" points="464.70,743.90 500.31,724.05 535.92,727.95 571.53,724.05 607.14,728.32 642.75,736.66 678.36,743.71 713.97,735.55"/>
<line x1="464.70" y1="714.22" x2="464.70" y2="733.33" stroke="#2c2c2c" stroke-width="1.2"/>
<line x1="462.50" y1="714.22" x2="466.90" y2="714.22" stroke="#2c2c2c" stroke-width="1.2"/>
<line x1="462.50" y1="733.33" x2="466.90" y2="733.33" stroke="#2c2c2c" stroke-width="1.2"/>
<line x1="500.31" y1="719.60" x2="500.31" y2="743.71" stroke="#2c2c2c" stroke-width="1.2"/>
<line x1="498.11" y1="719.60" x2="502.51" y2="719.60" stroke="#2c2c2c" stroke-width="1.2"/>
<line x1="498.11" y1="743.71" x2="502.51" y2="743.71" stroke="#2c2c2c" stroke-width="1.2"/>
<line x1="535.92" y1="725.90" x2="535.92" y2="755.21" stroke="#2c2c2c" stroke-width="1.2"/>
<line x1="533.72" y1="725.90" x2="538.12" y2="725.90" stroke="#2c2c2c" stroke-width="1.2"/>
<line x1="533.72" y1="755.21" x2="538.12" y2="755.21" stroke="#2c2c2c" stroke-width="1.2"/>
<line x1="571.53" y1="708.84" x2="571.53" y2="729.24" stroke="#2c2c2c" stroke-width="1.2"/>
<line x1="569.33" y1="708.84" x2="573.73" y2="708.84" stroke="#2c2c2c" stroke-width="1.2"/>
<line x1="569.33" y1="729.24" x2="573.73" y2="729.24" stroke="#2c2c2c" stroke-width="1.2"/>
<line x1="607.14" y1="721.45" x2="607.14" y2="748.35" stroke="#2c2c2c" stroke-width="1.2"/>
<line x1="604.94" y1="721.45" x2="609.34" y2="721.45" stroke="#2c2c2c" stroke-width="1.2"/>
<line x1="604.94" y1="748.35" x2="609.34" y2="748.35" stroke="#2c2c2c" stroke-width="1.2"/>
<line x1="642.75" y1="709.21" x2="642.75" y2="737.03" stroke="#2c2c2c" stroke-width="1.2"/>
<line x1="640.55" y1="709.21" x2="644.95" y2="709.21" stroke="#2c2c2c" stroke-width="1.2"/>
<line x1="640.55" y1="737.03" x2="644.95" y2="737.03" stroke="#2c2c2c" stroke-width="1.2"/>
<line x1="678.36" y1="731.47" x2="678.36" y2="763.00" stroke="#2c2c2c" stroke-width="1.2"/>
<line x1="676.16" y1="731.47" x2="680.56" y2="731.47" stroke="#2c2c2c" stroke-width="1.2"/>
<line x1="676.16" y1="763.00" x2="680.56" y2="763.00" stroke="#2c2c2c" stroke-width="1.2"/>
<line x1="713.97" y1="701.79" x2="713.97" y2="724.79" stroke="#2c2c2c" stroke-width="1.2"/>
<line x1="711.77" y1="701.79" x2="716.17" y2="701.79" stroke="#2c2c2c" stroke-width="1.2"/>
<line x1="711.77" y1="724.79" x2="716.17" y2="724.79" stroke="#2c2c2c" stroke-width="1.2"/>
<line x1="464.70" y1="733.33" x2="464.70" y2="755.21" stroke="#2c2c2c" stroke-width="1.2"/>
<line x1="462.50" y1="733.33" x2="466.90" y2="733.33" stroke="#2c2c2c" stroke-width="1.2"/>
<line x1="462.50" y1="755.21" x2="466.90" y2="755.21" stroke="#2c2c2c" stroke-width="1.2"/>
<line x1="500.31" y1="709.58" x2="500.31" y2="737.59" stroke="#2c2c2c" stroke-width="1.2"/>
<line x1="498.11" y1="709.58" x2="502.51" y2="709.58" stroke="#2c2c2c" stroke-width="1.2"/>
<line x1="498.11" y1="737.59" x2="502.51" y2="737.59" stroke="#2c2c2c" stroke-width="1.2"/>
<line x1="535.92" y1="714.77" x2="535.92" y2="740.75" stroke="#2c2c2c" stroke-width="1.2"/>
<line x1="533.72" y1="714.77" x2="538.12" y2="714.77" stroke="#2c2c2c" stroke-width="1.2"/>
<line x1="533.72" y1="740.75" x2="538.12" y2="740.75" stroke="#2c2c2c" stroke-width="1.2"/>
<line x1="571.53" y1="708.84" x2="571.53" y2="739.82" stroke="#2c2c2c" stroke-width="1.2"/>
<line x1="569.33" y1="708.84" x2="573.73" y2="708.84" stroke="#2c2c2c" stroke-width="1.2"/>
<line x1="569.33" y1="739.82" x2="573.73" y2="739.82" stroke="#2c2c2c" stroke-width="1.2"/>
<line x1="607.14" y1="714.40" x2="607.14" y2="742.23" stroke="#2c2c2c" stroke-width="1.2"/>
<line x1="604.94" y1="714.40" x2="609.34" y2="714.40" stroke="#2c2c2c" stroke-width="1.2"/>
<line x1="604.94" y1="742.23" x2="609.34" y2="742.23" stroke="#2c2c2c" stroke-width="1.2"/>
<line x1="642.75" y1="724.05" x2="642.75" y2="749.46" stroke="#2c2c2c" stroke-width="1.2"/>
<line x1="640.55" y1="724.05" x2="644.95" y2="724.05" stroke="#2c2c2c" stroke-width="1.2"/>
<line x1="640.55" y1="749.46" x2="644.95" y2="749.46" stroke="#2c2c2c" stroke-width="1.2"/>
<line x1="678.36" y1="731.47" x2="678.36" y2="755.77" stroke="#2c2c2c" stroke-width="1.2"/>
<line x1="676.16" y1="731.47" x2="680.56" y2="731.47" stroke="#2c2c2c" stroke-width="1.2"/>
<line x1="676.16" y1="755.77" x2="680.56" y2="755.77" stroke="#2c2c2c" stroke-width="1.2"/>
<line x1="713.97" y1="722.01" x2="713.97" y2="750.02" stroke="#2c2c2c" stroke-width="1.2"/>
<line x1="711.77" y1="722.01" x2="716.17" y2="722.01" stroke="#2c2c2c" stroke-width="1.2"/>
<line x1="711.77" y1="750.02" x2="716.17" y2="750.02" stroke="#2c2c2c" stroke-width="1.2"/>
<rect x="461.90" y="721.25" width="5.6" height="5.6" fill="#000"/>
<rect x="497.51" y="728.86" width="5.6" height="5.6" fill="#000"/>
<rect x="533.12" y="738.13" width="5.6" height="5.6" fill="#000"/>
<rect x="568.73" y="716.43" width="5.6" height="5.6" fill="#000"/>
<rect x="604.34" y="731.64" width="5.6" height="5.6" fill="#000"/>
<rect x="639.95" y="721.44" width="5.6" height="5.6" fill="#000"/>
<rect x="675.56" y="744.07" width="5.6" height="5.6" fill="#000"/>
<rect x="711.17" y="710.49" width="5.6" height="5.6" fill="#000"/>
<circle cx="464.70" cy="743.90" r="3.0" fill="#000"/>
<circle cx="500.31" cy="724.05" r="3.0" fill="#000"/>
<circle cx="535.92" cy="727.95" r="3.0" fill="#000"/>
<circle cx="571.53" cy="724.05" r="3.0" fill="#000"/>
<circle cx="607.14" cy="728.32" r="3.0" fill="#000"/>
<circle cx="642.75" cy="736.66" r="3.0" fill="#000"/>
<circle cx="678.36" cy="743.71" r="3.0" fill="#000"/>
<circle cx="713.97" cy="735.55" r="3.0" fill="#000"/>
<text x="435.50" y="872.50" font-size="12.3" text-anchor="start" fill="#1a1a1a" textLength="54.4" lengthAdjust="spacingAndGlyphs">Saline i.pl.</text>
<line x1="467.10" y1="880.80" x2="467.10" y2="889.80" stroke="#222" stroke-width="1.15"/>
<polyline fill="none" stroke="#222" stroke-width="1.15" points="463.00,885.60 467.10,889.80 471.20,885.60"/>
<text x="497.00" y="872.50" font-size="12.3" text-anchor="start" fill="#1a1a1a" textLength="135.4" lengthAdjust="spacingAndGlyphs">GRK2 AS(MM)-ODN i.t.</text>
<line x1="501.31" y1="880.00" x2="501.31" y2="891.00" stroke="#444" stroke-width="1.2"/>
<line x1="498.41" y1="880.00" x2="504.21" y2="880.00" stroke="#444" stroke-width="1.2"/>
<line x1="536.92" y1="879.50" x2="536.92" y2="891.00" stroke="#444" stroke-width="1.2"/>
<line x1="534.02" y1="879.50" x2="539.82" y2="879.50" stroke="#444" stroke-width="1.2"/>
<line x1="573.53" y1="880.00" x2="573.53" y2="891.00" stroke="#444" stroke-width="1.2"/>
<line x1="570.63" y1="880.00" x2="576.43" y2="880.00" stroke="#444" stroke-width="1.2"/>
<line x1="608.74" y1="878.60" x2="608.74" y2="891.00" stroke="#444" stroke-width="1.2"/>
<line x1="605.84" y1="878.60" x2="611.64" y2="878.60" stroke="#444" stroke-width="1.2"/>
<line x1="644.45" y1="879.10" x2="644.45" y2="891.00" stroke="#444" stroke-width="1.2"/>
<line x1="641.55" y1="879.10" x2="647.35" y2="879.10" stroke="#444" stroke-width="1.2"/>
<line x1="680.06" y1="879.70" x2="680.06" y2="891.00" stroke="#444" stroke-width="1.2"/>
<line x1="677.16" y1="879.70" x2="682.96" y2="879.70" stroke="#444" stroke-width="1.2"/>
<line x1="432.50" y1="947.80" x2="453.30" y2="947.80" stroke="#222" stroke-width="1.25"/>
<rect x="439.95" y="944.85" width="5.9" height="5.9" fill="#000"/>
<text x="459.50" y="951.80" font-size="12.3" text-anchor="start" fill="#1a1a1a" textLength="175.0" lengthAdjust="spacingAndGlyphs">Saline + GRK2 AS-ODN (<tspan font-style="italic">N</tspan> = 8)</text>
<line x1="432.50" y1="965.00" x2="453.30" y2="965.00" stroke="#222" stroke-width="1.25"/>
<circle cx="442.90" cy="965.00" r="3.3" fill="#000"/>
<text x="459.50" y="967.60" font-size="12.3" text-anchor="start" fill="#1a1a1a" textLength="189.2" lengthAdjust="spacingAndGlyphs">Saline + GRK2 MM-ODN (<tspan font-style="italic">N</tspan> = 10)</text>
<text x="557.00" y="992.80" font-size="12.3" text-anchor="middle" fill="#1a1a1a">(f)</text>
</svg></body></html>
